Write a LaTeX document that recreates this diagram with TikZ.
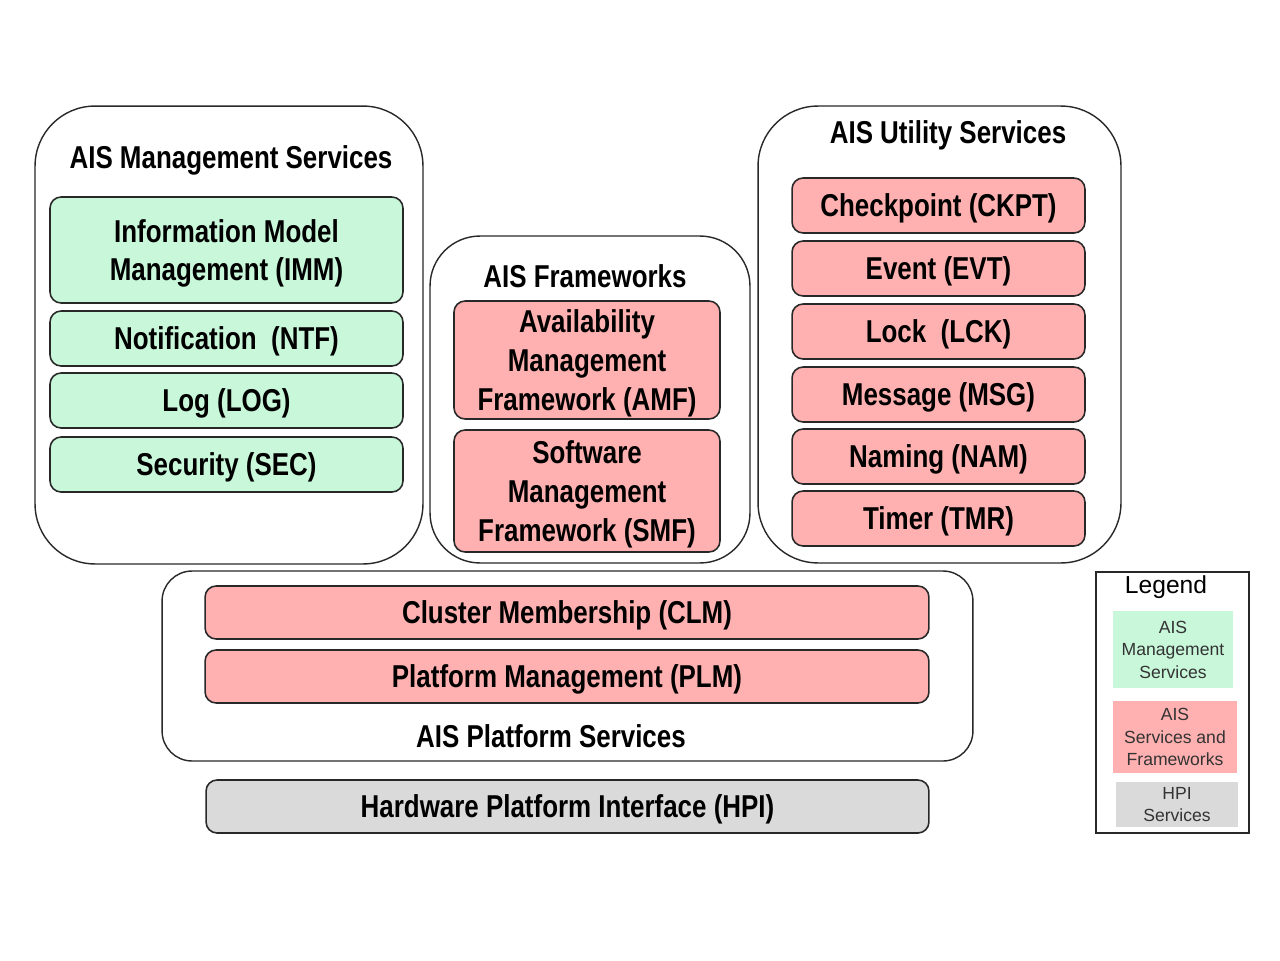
\documentclass[tikz,border=0pt]{standalone}
\usepackage{fontspec}
\setmainfont{Liberation Sans}[FakeStretch=0.82]
\newfontfamily\legfont{Liberation Sans}
\definecolor{mgreen}{RGB}{200,247,218}
\definecolor{mpink}{RGB}{255,176,176}
\definecolor{mgrey}{RGB}{218,218,218}
\definecolor{edge}{RGB}{40,40,40}
\begin{document}
\begin{tikzpicture}[x=0.02cm,y=-0.02cm,
  container/.style={draw=edge, line width=0.8pt, fill=white, rounded corners=#1},
  container/.default=1.2cm,
  svc/.style={draw=edge, line width=0.9pt, rounded corners=0.22cm, align=center,
     font=\fontsize{18}{22}\selectfont\bfseries, inner sep=0pt, text depth=0pt},
  gsvc/.style={svc, fill=mgreen},
  psvc/.style={svc, fill=mpink},
  hsvc/.style={svc, fill=mgrey},
  ttl/.style={font=\fontsize{18}{22}\selectfont\bfseries, inner sep=0pt, text depth=0pt},
  legitem/.style={draw=none, align=center, inner sep=0pt, text=black!80,
     font=\legfont\fontsize{10}{12.8}\selectfont}
]
\useasboundingbox (0,0) rectangle (1280,960);
\fill[white] (0,0) rectangle (1280,960);

% AIS Management Services
\node[container, minimum width=7.76cm, minimum height=9.16cm] (mgmt) at (229,335) {};
\node[ttl] (mgmtT) at (231,157) {AIS Management Services};
\node[gsvc, minimum width=7.06cm, minimum height=2.12cm] (imm) at (226.5,250) {Information Model\\Management (IMM)};
\node[gsvc, minimum width=7.06cm, minimum height=1.1cm] (ntf) at (226.5,338.5) {Notification\ \ (NTF)};
\node[gsvc, minimum width=7.06cm, minimum height=1.1cm] (log) at (226.5,400.5) {Log (LOG)};
\node[gsvc, minimum width=7.06cm, minimum height=1.1cm] (sec) at (226.5,464.5) {Security (SEC)};

% AIS Frameworks
\node[container=1.0cm, minimum width=6.4cm, minimum height=6.54cm] (fw) at (590,399.5) {};
\node[ttl] (fwT) at (585,276) {AIS Frameworks};
\node[psvc, minimum width=5.32cm, minimum height=2.36cm] (amf) at (587,360) {Availability\\Management\\Framework (AMF)};
\node[psvc, minimum width=5.32cm, minimum height=2.44cm] (smf) at (587,491) {Software\\Management\\Framework (SMF)};

% AIS Utility Services
\node[container, minimum width=7.26cm, minimum height=9.14cm] (util) at (939.5,334.5) {};
\node[ttl] (utilT) at (948,132) {AIS Utility Services};
\node[psvc, minimum width=5.86cm, minimum height=1.1cm] (ckpt) at (938.5,205.5) {Checkpoint (CKPT)};
\node[psvc, minimum width=5.86cm, minimum height=1.1cm] (evt) at (938.5,268.5) {Event (EVT)};
\node[psvc, minimum width=5.86cm, minimum height=1.1cm] (lck) at (938.5,331.5) {Lock\ \ (LCK)};
\node[psvc, minimum width=5.86cm, minimum height=1.1cm] (msg) at (938.5,394.5) {Message (MSG)};
\node[psvc, minimum width=5.86cm, minimum height=1.1cm] (nam) at (938.5,456.5) {Naming (NAM)};
\node[psvc, minimum width=5.86cm, minimum height=1.1cm] (tmr) at (938.5,518.5) {Timer (TMR)};

% AIS Platform Services
\node[container=0.6cm, minimum width=16.22cm, minimum height=3.8cm] (plat) at (567.5,666) {};
\node[psvc, minimum width=14.48cm, minimum height=1.06cm] (clm) at (567,612.5) {Cluster Membership (CLM)};
\node[psvc, minimum width=14.48cm, minimum height=1.06cm] (plm) at (567,676.5) {Platform Management (PLM)};
\node[ttl] (platT) at (551,736) {AIS Platform Services};

% HPI
\node[hsvc, minimum width=14.46cm, minimum height=1.06cm] (hpi) at (567.5,806.5) {Hardware Platform Interface (HPI)};

% Legend
\node[draw=edge, line width=0.8pt, fill=white, minimum width=3.06cm, minimum height=5.22cm] (leg) at (1172.5,702.5) {};
\node[inner sep=0pt, font=\legfont\fontsize{14}{16}\selectfont] (legT) at (1166,587) {Legend};
\node[legitem, fill=mgreen, minimum width=2.4cm, minimum height=1.54cm] (lg) at (1173,649.5) {AIS\\Management\\Services};
\node[legitem, fill=mpink, minimum width=2.48cm, minimum height=1.44cm] (lp) at (1175,737) {AIS\\Services and\\Frameworks};
\node[legitem, fill=mgrey, minimum width=2.44cm, minimum height=0.9cm] (lh) at (1177,804.5) {HPI\\Services};
\end{tikzpicture}
\end{document}
